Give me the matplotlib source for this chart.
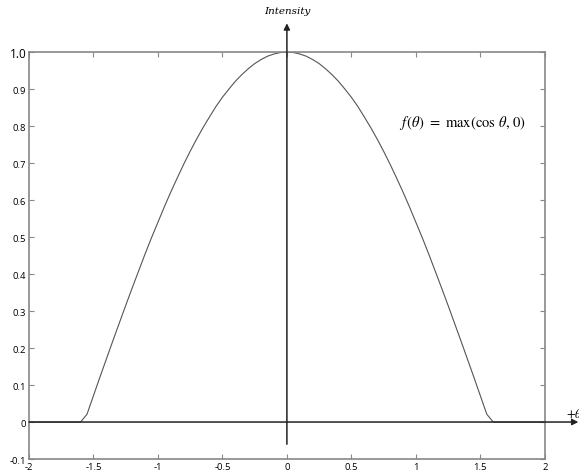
import matplotlib
matplotlib.use('Agg')
import matplotlib.pyplot as plt

plt.rcParams['axes.unicode_minus'] = False
plt.rcParams['mathtext.fontset'] = 'stix'

theta = [-2.0, -1.6, -1.55, -1.5, -1.45, -1.4, -1.35, -1.3, -1.25, -1.2, -1.15,
         -1.1, -1.05, -1.0, -0.95, -0.9, -0.85, -0.8, -0.75, -0.7, -0.65,
         -0.6, -0.55, -0.5, -0.45, -0.4, -0.35, -0.3, -0.25, -0.2, -0.15,
         -0.1, -0.05, 0.0, 0.05, 0.1, 0.15, 0.2, 0.25, 0.3, 0.35,
         0.4, 0.45, 0.5, 0.55, 0.6, 0.65, 0.7, 0.75, 0.8, 0.85,
         0.9, 0.95, 1.0, 1.05, 1.1, 1.15, 1.2, 1.25, 1.3, 1.35,
         1.4, 1.45, 1.5, 1.55, 1.6, 2.0]
intensity = [0.0, 0.0, 0.021, 0.071, 0.121, 0.170, 0.219, 0.267, 0.315, 0.362, 0.408,
             0.454, 0.498, 0.540, 0.582, 0.622, 0.660, 0.697, 0.732, 0.765, 0.796,
             0.825, 0.853, 0.878, 0.900, 0.921, 0.939, 0.955, 0.969, 0.980, 0.989,
             0.995, 0.999, 1.000, 0.999, 0.995, 0.989, 0.980, 0.969, 0.955, 0.939,
             0.921, 0.900, 0.878, 0.853, 0.825, 0.796, 0.765, 0.732, 0.697, 0.660,
             0.622, 0.582, 0.540, 0.498, 0.454, 0.408, 0.362, 0.315, 0.267, 0.219,
             0.170, 0.121, 0.071, 0.021, 0.0, 0.0]

xticks = [-2, -1.5, -1, -0.5, 0, 0.5, 1, 1.5, 2]
xlabels = ['-2', '-1.5', '-1', '-0.5', '0', '0.5', '1', '1.5', '2']
yticks = [-0.1, 0, 0.1, 0.2, 0.3, 0.4, 0.5, 0.6, 0.7, 0.8, 0.9, 1.0]
ylabels = ['-0.1', '0', '0.1', '0.2', '0.3', '0.4', '0.5', '0.6', '0.7', '0.8', '0.9', '1.0']

fig = plt.figure(figsize=(5.79, 4.77), dpi=100)
ax = fig.add_axes([0.050, 0.0356, 0.891, 0.853])

ax.plot(theta, intensity, color='#555555', lw=0.8)

ax.set_xlim(-2, 2)
ax.set_ylim(-0.1, 1.0)
ax.set_xticks(xticks)
ax.set_xticklabels(xlabels)
ax.set_yticks(yticks)
ax.set_yticklabels(ylabels)
ax.tick_params(direction='in', length=3.5, width=0.8, color='#888888',
               top=True, right=True, labelsize=6.8, pad=2)
for lab in ax.get_xticklabels() + ax.get_yticklabels():
    lab.set_fontfamily('Open Sans')
ax.get_yticklabels()[-1].set_fontsize(8.5)
for s in ax.spines.values():
    s.set_color('#888888')
    s.set_linewidth(1.2)

# axis arrows
ax.annotate('', xy=(0, 1.078), xytext=(0, -0.06),
            arrowprops=dict(arrowstyle='-|>', color='#222222', lw=1.1,
                            mutation_scale=9, shrinkA=0, shrinkB=0),
            annotation_clip=False)
ax.annotate('', xy=(2.26, 0), xytext=(-2, 0),
            arrowprops=dict(arrowstyle='-|>', color='#222222', lw=1.1,
                            mutation_scale=9, shrinkA=0, shrinkB=0),
            annotation_clip=False)

ax.text(0, 1.112, 'Intensity', ha='center', va='center', fontsize=7.5,
        family='DejaVu Serif', style='italic', clip_on=False)
ax.text(2.165, 0.025, r'$+\theta$', ha='left', va='center', fontsize=9,
        clip_on=False)
ax.text(1.36, 0.81, r'$f\,(\theta)\ =\ \mathrm{max}(\cos\,\theta,\,0)$',
        ha='center', va='center', fontsize=10.5)

fig.savefig('out.png', dpi=100)
